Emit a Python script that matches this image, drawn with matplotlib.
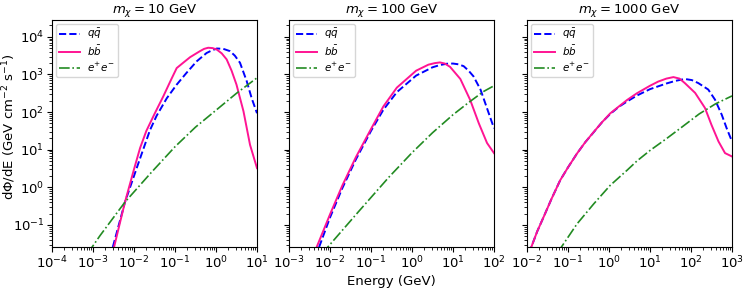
import matplotlib
matplotlib.use("Agg")
import matplotlib.pyplot as plt
from matplotlib.ticker import LogLocator, NullFormatter

# ---------------- data ----------------
masses = [10, 100, 1000]
titles = [r"$m_\chi = 10$ GeV", r"$m_\chi = 100$ GeV", r"$m_\chi = 1000$ GeV"]
xlims = [(1e-4, 1e1), (1e-3, 1e2), (1e-2, 1e3)]
xticks = [[1e-4, 1e-3, 1e-2, 1e-1, 1e0, 1e1],
          [1e-3, 1e-2, 1e-1, 1e0, 1e1, 1e2],
          [1e-2, 1e-1, 1e0, 1e1, 1e2, 1e3]]
ylim = (0.026, 2.8e4)
yticks = [1e-1, 1e0, 1e1, 1e2, 1e3, 1e4]
labels = [r"$q\bar{q}$", r"$b\bar{b}$", r"$e^{+}e^{-}$"]

# m = 10 GeV
E_qq_10 = [2.63e-3, 3.02e-3, 6.03e-3, 0.0126, 0.0245, 0.0355, 0.0631, 0.11, 0.19, 0.339, 0.589, 0.794, 1.05, 1.51, 2.19, 2.88, 3.85, 5.62, 7.41, 10]
F_qq_10 = [0.0141, 0.0251, 0.407, 4.17, 33.1, 79.4, 234, 537, 1096, 2239, 3715, 4365, 4898, 4786, 4169, 3162, 2042, 661, 234, 93.3]
E_bb_10 = [2.82e-3, 3.24e-3, 6.03e-3, 0.01, 0.0141, 0.02, 0.0316, 0.0519, 0.0794, 0.11, 0.158, 0.234, 0.407, 0.513, 0.646, 0.832, 1.05, 1.38, 1.82, 2.4, 3.16, 4.68, 6.76, 10]
F_bb_10 = [0.0141, 0.0251, 0.407, 3.02, 11.2, 31.6, 89.1, 263, 708, 1479, 2042, 2884, 4169, 4786, 5129, 5012, 4571, 3631, 2512, 1259, 537, 105, 13.5, 3.24]
E_ee_10 = [7.94e-4, 9.33e-4, 1.48e-3, 6.03e-3, 0.0251, 0.1, 0.316, 1.0, 3.16, 10]
F_ee_10 = [0.0166, 0.0251, 0.052, 0.407, 2.34, 12.0, 39.8, 112, 316, 813]

# m = 100 GeV
E_qq_100 = [4.57e-3, 5.37e-3, 0.01, 0.02, 0.0427, 0.1, 0.2, 0.427, 1.26, 3.16, 4.79, 7.08, 10, 13.5, 18.2, 24.0, 31.6, 46.8, 67.6, 100]
F_qq_100 = [0.0141, 0.0251, 0.158, 0.955, 5.5, 31.6, 115, 339, 933, 1549, 1778, 1928, 1950, 1862, 1660, 1259, 891, 398, 126, 37.2]
E_bb_100 = [3.98e-3, 4.68e-3, 0.01, 0.02, 0.0427, 0.1, 0.2, 0.427, 1.26, 2.51, 3.55, 4.79, 6.31, 8.51, 15.1, 26.3, 42.7, 67.6, 100]
F_bb_100 = [0.0141, 0.0251, 0.191, 1.12, 6.31, 35.5, 141, 447, 1259, 1820, 1995, 2089, 1950, 1585, 759, 209, 50.1, 15.1, 8.13]
E_ee_100 = [6.31e-3, 8.61e-3, 0.0501, 0.275, 1.0, 3.16, 10, 25.1, 56.2, 100]
F_ee_100 = [0.017, 0.0251, 0.229, 1.88, 8.32, 28.2, 85.1, 186, 355, 501]

# m = 1000 GeV
E_qq_1000 = [0.0112, 0.0126, 0.0178, 0.0251, 0.0398, 0.0646, 0.1, 0.166, 0.263, 0.427, 0.676, 1.07, 1.74, 2.75, 4.79, 10, 25.1, 41.7, 70.8, 105, 151, 263, 385, 562, 741, 1000]
F_qq_1000 = [0.0178, 0.0251, 0.068, 0.158, 0.5, 1.55, 3.39, 7.94, 15.8, 29.5, 53.7, 89.1, 138, 191, 275, 407, 575, 676, 759, 708, 589, 398, 214, 85.1, 37.2, 16.6]
E_bb_1000 = [0.0112, 0.0126, 0.0178, 0.0251, 0.0398, 0.0646, 0.1, 0.166, 0.263, 0.427, 0.676, 1.07, 1.74, 2.75, 4.79, 10, 15.8, 25.1, 37.2, 52.5, 70.8, 126, 219, 316, 468, 676, 1000]
F_bb_1000 = [0.0178, 0.0251, 0.068, 0.158, 0.5, 1.55, 3.39, 7.94, 15.8, 29.9, 53.7, 92.3, 141, 209, 316, 501, 646, 776, 851, 776, 589, 324, 129, 45.7, 16.6, 8.13, 6.61]
E_ee_1000 = [0.0631, 0.0676, 0.166, 0.427, 1.07, 2.75, 4.79, 10, 25.7, 63.1, 158, 398, 1000]
F_ee_1000 = [0.0178, 0.0251, 0.107, 0.367, 1.13, 2.84, 5.01, 9.55, 20, 41.7, 89.1, 166, 269]

panels = [
    (E_qq_10, F_qq_10, E_bb_10, F_bb_10, E_ee_10, F_ee_10),
    (E_qq_100, F_qq_100, E_bb_100, F_bb_100, E_ee_100, F_ee_100),
    (E_qq_1000, F_qq_1000, E_bb_1000, F_bb_1000, E_ee_1000, F_ee_1000),
]

# ---------------- figure ----------------
fig = plt.figure(figsize=(7.48, 2.89), dpi=100)
lefts = [52 / 748, 289 / 748, 527 / 748]
width = 205 / 748
bottom = 1 - 247 / 289
height = (247 - 20) / 289
fs = 9.5

for i, (Eq, Fq, Eb, Fb, Ee, Fe) in enumerate(panels):
    ax = fig.add_axes([lefts[i], bottom, width, height])
    ax.plot(Eq, Fq, color="blue", ls="--", lw=1.4, label=labels[0])
    ax.plot(Eb, Fb, color="#ff1493", ls="-", lw=1.4, label=labels[1])
    ax.plot(Ee, Fe, color="#228b22", ls="-.", lw=1.2, label=labels[2])
    ax.set_xscale("log")
    ax.set_yscale("log")
    ax.set_xticks(xticks[i])
    ax.set_yticks(yticks)
    ax.xaxis.set_minor_locator(LogLocator(base=10, subs=range(2, 10), numticks=20))
    ax.xaxis.set_minor_formatter(NullFormatter())
    ax.yaxis.set_minor_locator(LogLocator(base=10, subs=range(2, 10), numticks=20))
    ax.yaxis.set_minor_formatter(NullFormatter())
    ax.set_xlim(*xlims[i])
    ax.set_ylim(*ylim)
    ax.set_title(titles[i], fontsize=fs, pad=5)
    ax.tick_params(labelsize=fs, pad=2)
    if i > 0:
        ax.tick_params(axis="y", labelleft=False)
    else:
        ax.set_ylabel(r"d$\Phi$/dE (GeV cm$^{-2}$ s$^{-1}$)", fontsize=fs)
        ax.yaxis.set_label_coords(-0.165, 0.53)
    if i == 1:
        ax.set_xlabel("Energy (GeV)", fontsize=fs, labelpad=3)
    ax.legend(loc="upper left", fontsize=7.5, handlelength=2.0,
              borderaxespad=0.4, labelspacing=0.25, handletextpad=0.7,
              borderpad=0.3)

fig.savefig("out.png", dpi=100)
